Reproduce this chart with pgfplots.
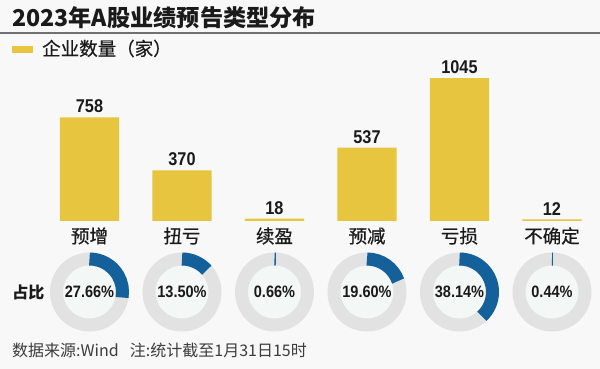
\documentclass[border=0pt]{standalone}
\usepackage{fontspec}
\usepackage{pgfplots}
\usepackage{pgfplotstable}
\pgfplotsset{compat=1.18}
\setmainfont{Noto Sans CJK SC}
\newfontfamily\cjkmed{Noto Sans CJK SC}[FakeBold=0.5]
\newfontfamily\numfont{Liberation Sans}[FakeStretch=0.88]
\definecolor{bgC}{HTML}{F8F8F8}
\definecolor{barY}{HTML}{E8C53F}
\definecolor{blueC}{HTML}{14609A}
\definecolor{ringC}{HTML}{E2E2E2}
\definecolor{innerC}{HTML}{F3F7F5}
\definecolor{txtC}{HTML}{1A1A1A}
\definecolor{lineC}{HTML}{707070}
\pgfplotstableread{
x n pct
0 758 27.66
1 370 13.50
2 18 0.66
3 537 19.60
4 1045 38.14
5 12 0.44
}\datatable
\begin{document}
\begin{tikzpicture}
\path[use as bounding box] (0,0) rectangle (600pt,369pt);
\fill[bgC] (0,0) rectangle (600pt,369pt);
% title
\node[anchor=base west, inner sep=0pt, text=txtC, font=\fontsize{23.2}{23.2}\selectfont\bfseries] at (12pt,342pt) {2023年A股业绩预告类型分布};
\draw[lineC, line width=1.2pt] (0,336pt) -- (600pt,336pt);
% legend
\fill[barY] (12pt,316pt) rectangle (33pt,323pt);
\node[anchor=base west, inner sep=0pt, text=txtC, font=\cjkmed\fontsize{18.5}{18.5}\selectfont] at (42pt,313.5pt) {企业数量（家）};
% row label
\node[inner sep=0pt, text=txtC, font=\fontsize{16}{16}\selectfont\bfseries] at (28.5pt,77pt) {占比};
% footer
\node[anchor=base west, inner sep=0pt, text=txtC!85, font=\fontsize{16}{16}\selectfont] at (12pt,12.5pt) {数据来源:Wind\hspace{0.7em}注:统计截至1月31日15时};
\begin{axis}[
  at={(43.25pt,148pt)}, anchor=south west,
  scale only axis, width=555pt, height=150.5pt,
  xmin=-0.5, xmax=5.5, ymin=0, ymax=1100,
  axis line style={draw=none}, tick style={draw=none},
  ytick=\empty, xtick={0,...,5},
  xticklabels={预增,扭亏,续盈,预减,亏损,不确定},
  xticklabel style={anchor=base, inner sep=0pt, yshift=-22pt, text=txtC, font=\cjkmed\fontsize{18.5}{18.5}\selectfont},
  clip=false,
]
\addplot[ybar, bar width=0.638, fill=barY, draw=none,
  point meta=explicit symbolic,
  nodes near coords={\pgfplotspointmeta},
  nodes near coords style={font=\numfont\bfseries\fontsize{18.5}{18.5}\selectfont, text=txtC, anchor=south, inner sep=0pt, yshift=4pt}]
  table[x=x, y=n, meta=n] {\datatable};
\pgfplotsinvokeforeach{0,...,5}{
  \pgfplotstablegetelem{#1}{pct}\of\datatable
  \edef\temp{%
    \noexpand\fill[innerC] (axis cs:#1,-519) circle[radius=26.5pt];
    \noexpand\draw[ringC, line width=13pt] (axis cs:#1,-519) circle[radius=33pt];
    \noexpand\draw[blueC, line width=13pt] ([yshift=33pt]axis cs:#1,-519) arc[start angle=90, delta angle=-3.6*\pgfplotsretval, radius=33pt];
    \noexpand\node[text=txtC, font=\noexpand\numfont\noexpand\bfseries\noexpand\fontsize{16.5}{16.5}\noexpand\selectfont] at (axis cs:#1,-519) {\pgfplotsretval\noexpand\%};
  }\temp
}
\end{axis}
\end{tikzpicture}
\end{document}
